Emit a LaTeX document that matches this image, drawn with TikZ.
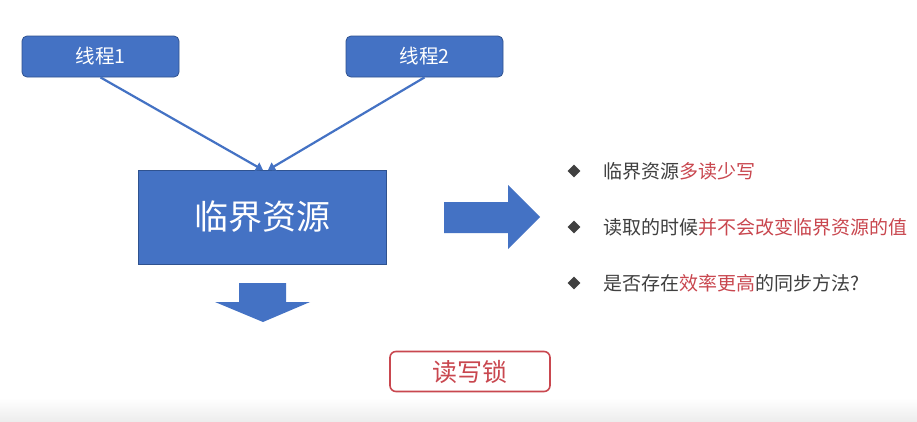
\documentclass[tikz,border=0pt]{standalone}
\usepackage{fontspec}
\setmainfont{Noto Sans CJK SC}
\usetikzlibrary{arrows.meta,shapes.geometric}
\definecolor{bl}{HTML}{4472C4}
\definecolor{bld}{HTML}{2F528F}
\definecolor{rd}{HTML}{C9474F}
\definecolor{tx}{HTML}{404040}
\tikzset{
  thr/.style={draw=bld, fill=bl, rounded corners=5pt, minimum width=157pt, minimum height=41pt, text=white, font=\fontsize{19.5}{22}\selectfont, inner sep=0pt, line width=0.8pt},
  crit/.style={draw=bld, fill=bl, minimum width=248pt, minimum height=94pt, text=white, font=\fontsize{34}{38}\selectfont, inner sep=0pt, line width=0.6pt},
  conn/.style={draw=bl, line width=2.2pt, -{Triangle[length=7pt,width=9pt]}},
  bul/.style={fill=tx, diamond, minimum size=13pt, inner sep=0pt},
  item/.style={anchor=west, text=tx, font=\fontsize{19}{22}\selectfont, inner sep=0pt},
  lockbox/.style={draw=rd, rounded corners=6pt, line width=1.6pt, minimum width=160pt, minimum height=40pt, text=rd, font=\fontsize{25}{28}\selectfont, inner sep=0pt, fill=white},
}
\begin{document}
\begin{tikzpicture}[x=1pt,y=-1pt]
\useasboundingbox (0,0) rectangle (917,421);
\fill[white] (0,0) rectangle (917,421);
\shade[top color=white, bottom color=black!7] (0,398) rectangle (917,421);
\node[thr] (t1) at (100.5,56.5) {线程1};
\node[thr] (t2) at (424.5,56.5) {线程2};
\node[crit] (c) at (262,217) {临界资源};
\coordinate (c1) at (263,170);
\coordinate (c2) at (268,170);
\draw[conn] (t1.south) -- (c1);
\draw[conn] (t2.south) -- (c2);
% right block arrow
\fill[bl] (444,202) -- (508,202) -- (508,185) -- (540,217) -- (508,249) -- (508,233) -- (444,233) -- cycle;
% down block arrow
\fill[bl] (239,283) -- (286,283) -- (286,302) -- (310,302) -- (263,322) -- (215,302) -- (239,302) -- cycle;
% bullets
\node[bul] (b1) at (574,171) {};
\node[bul] (b2) at (574,227) {};
\node[bul] (b3) at (574,283) {};
\node[item] (i1) at (603,171) {临界资源\textcolor{rd}{多读少写}};
\node[item] (i2) at (603,227) {读取的时候\textcolor{rd}{并不会改变临界资源的值}};
\node[item] (i3) at (603,283) {是否存在\textcolor{rd}{效率更高}的同步方法?};
\node[lockbox] (lk) at (470,371.5) {读写锁};
\end{tikzpicture}
\end{document}
